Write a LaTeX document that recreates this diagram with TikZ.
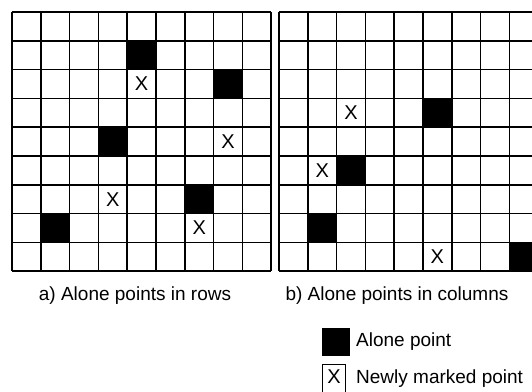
\documentclass[tikz,border=0pt]{standalone}
\usepackage{fontspec}
\setmainfont{Liberation Sans}
\usetikzlibrary{positioning}

\begin{document}
\begin{tikzpicture}[
    x=1pt, y=-1pt,
    cell/.style={minimum size=28.8pt, inner sep=0pt, outer sep=0pt},
    alone/.style={cell, fill=black},
    marked/.style={cell, font=\fontsize{20}{20}\selectfont},
    gridline/.style={line width=1.5pt, line cap=square},
    caption/.style={font=\fontsize{19}{22}\selectfont, inner sep=0pt}
]
    \clip (0,0) rectangle (532,391);
    \fill[white] (0,0) rectangle (532,391);

    % a) alone points in rows
    \begin{scope}[shift={(12,12)}, x=28.8pt, y=-28.8pt]
        \foreach \c/\r [count=\k] in {4/1, 7/2, 3/4, 6/6, 1/7}
            \node[alone] (ra\k) at (\c+0.5, \r+0.5) {};
        \foreach \c/\r [count=\k] in {4/2, 7/4, 3/6, 6/7}
            \node[marked] (rx\k) at (\c+0.5, \r+0.5) {X};
        \foreach \i in {0,...,9} {
            \draw[gridline] (\i,0) -- (\i,9);
            \draw[gridline] (0,\i) -- (9,\i);
        }
    \end{scope}

    % b) alone points in columns
    \begin{scope}[shift={(279,12)}, x=28.8pt, y=-28.8pt]
        \foreach \c/\r [count=\k] in {5/3, 2/5, 1/7, 8/8}
            \node[alone] (ca\k) at (\c+0.5, \r+0.5) {};
        \foreach \c/\r [count=\k] in {2/3, 1/5, 5/8}
            \node[marked] (cx\k) at (\c+0.5, \r+0.5) {X};
        \foreach \i in {0,...,9} {
            \draw[gridline] (\i,0) -- (\i,9);
            \draw[gridline] (0,\i) -- (9,\i);
        }
    \end{scope}

    \node[caption, anchor=base] (capa) at (135,300) {a) Alone points in rows};
    \node[caption, anchor=base] (capb) at (397,300) {b) Alone points in columns};

    % legend
    \node[alone, minimum size=28pt] (keyalone) at (336,342) {};
    \node[caption, right=6pt of keyalone] (keyalonetext) {Alone point};
    \node[marked, draw, line width=1pt, minimum width=23pt, minimum height=30pt,
        anchor=north] (keymarked) at (334,364) {};
    \node[marked] (keyx) at (334,377) {X};
    \node[caption, anchor=base west] (keymarkedtext) at (356,383) {Newly marked point};
\end{tikzpicture}
\end{document}
